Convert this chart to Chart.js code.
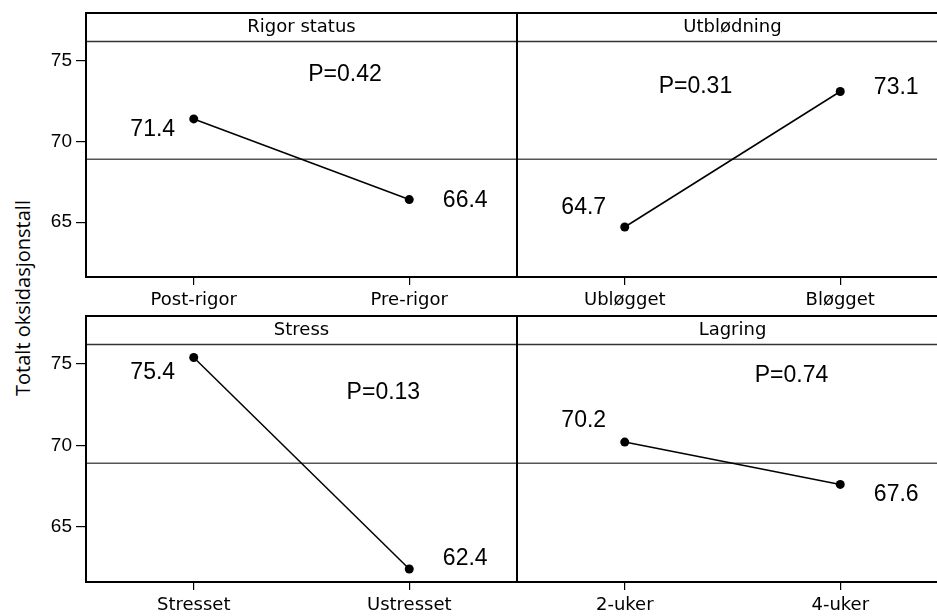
<!DOCTYPE html>
<html>
<head>
<meta charset="utf-8">
<script src="https://cdn.jsdelivr.net/npm/chart.js@4.4.1/dist/chart.umd.min.js"></script>
<style>
  html, body { margin: 0; padding: 0; background: #fff; overflow: hidden; }
  #wrap { position: relative; width: 937px; height: 616px; overflow: hidden; background: #fff; }
  #wrap canvas { position: absolute; }
  #ytitle {
    position: absolute; left: 22px; top: 298px;
    transform: translate(-50%, -50%) rotate(-90deg);
    font: 20px "Open Sans", sans-serif; color: #000; white-space: nowrap;
  }
</style>
</head>
<body>
<div id="wrap">
  <div id="ytitle">Totalt oksidasjonstall</div>
</div>
<script>
// data
const factors = ['Rigor status', 'Utblødning', 'Stress', 'Lagring'];
const levels = [
  ['Post-rigor', 'Pre-rigor'],
  ['Ubløgget', 'Bløgget'],
  ['Stresset', 'Ustresset'],
  ['2-uker', '4-uker'],
];
const means = [
  [71.4, 66.4],
  [64.7, 73.1],
  [75.4, 62.4],
  [70.2, 67.6],
];
const pValues = ['0.42', '0.31', '0.13', '0.74'];
const grandMean = 68.9;
const yTicks = [65, 70, 75];
const yMin = 61.6;
const yMax = 76.2;

// layout of the 2x2 grid (page pixels)
const rowTop = [13, 315.7];
const rowBottom = [277, 581.7];
const axisH = 39;
// where the value labels and P text sit, per panel
const labelDy = [[8.7, -0.5], [-21.4, -5.4], [13.3, -11.7], [-23.3, 8.7]];
const pPos = [[0.601, 74.29], [0.414, 73.51], [0.690, 73.34], [0.637, 74.40]];

const NUM_FONT = '"Liberation Sans", Arial, sans-serif';
const TXT_FONT = '"DejaVu Sans", sans-serif';

const framePlugin = {
  id: 'frame',
  beforeDatasetsDraw(chart) {
    const { ctx, chartArea: a, scales } = chart;
    const y = scales.y.getPixelForValue(grandMean);
    ctx.save();
    ctx.strokeStyle = '#555';
    ctx.lineWidth = 1.5;
    ctx.beginPath();
    ctx.moveTo(a.left, y);
    ctx.lineTo(a.right, y);
    ctx.stroke();
    ctx.restore();
  },
  afterDraw(chart) {
    const { ctx, chartArea: a } = chart;
    const top = chart.titleBlock.top;
    ctx.save();
    ctx.strokeStyle = '#333';
    ctx.lineWidth = 1.5;
    ctx.beginPath();
    ctx.moveTo(a.left, a.top);
    ctx.lineTo(a.right, a.top);
    ctx.stroke();
    ctx.strokeStyle = '#000';
    ctx.lineWidth = 2;
    ctx.strokeRect(a.left, top, a.right - a.left, a.bottom - top);
    ctx.restore();
  },
};

const labelPlugin = {
  id: 'valueLabels',
  afterDatasetsDraw(chart, args, opts) {
    const { ctx, chartArea: a, scales } = chart;
    const pts = chart.getDatasetMeta(0).data;
    const vals = chart.data.datasets[0].data;
    ctx.save();
    ctx.fillStyle = '#000';
    ctx.font = '23px ' + NUM_FONT;
    ctx.textAlign = 'center';
    ctx.textBaseline = 'alphabetic';
    pts.forEach((p, i) => {
      const dx = i === 0 ? -41 : 56;
      ctx.fillText(vals[i].toFixed(1), p.x + dx, p.y + opts.dy[i] + 8.2);
    });
    const px = a.left + opts.p[0] * (a.right - a.left);
    const py = scales.y.getPixelForValue(opts.p[1]);
    ctx.fillText('P=' + opts.pText, px, py + 8.2);
    ctx.restore();
  },
};

const wrap = document.getElementById('wrap');

factors.forEach((name, idx) => {
  const col = idx % 2;
  const row = Math.floor(idx / 2);
  const canvas = document.createElement('canvas');
  const left = col === 0 ? 0 : 514;
  const width = col === 0 ? 520 : 437;
  const top = rowTop[row] - 13;
  const height = rowBottom[row] + axisH - top;
  canvas.width = width;
  canvas.height = height;
  canvas.style.left = left + 'px';
  canvas.style.top = top + 'px';
  wrap.appendChild(canvas);

  new Chart(canvas.getContext('2d'), {
    type: 'line',
    data: {
      labels: levels[idx],
      datasets: [
        {
          data: means[idx],
          borderColor: '#000',
          borderWidth: 1.5,
          pointRadius: 4.5,
          pointBackgroundColor: '#000',
          pointBorderWidth: 0,
          tension: 0,
          clip: false,
        },
      ],
    },
    options: {
      responsive: false,
      animation: false,
      devicePixelRatio: 1,
      layout: {
        autoPadding: false,
        padding: { top: 13, left: col === 0 ? 0 : 3, right: 3, bottom: 0 },
      },
      scales: {
        x: {
          type: 'category',
          offset: true,
          afterFit: (s) => { s.height = axisH; },
          grid: { drawOnChartArea: false, tickLength: 8, color: '#000', lineWidth: 1.2 },
          border: { display: false },
          ticks: {
            color: '#000',
            font: { family: TXT_FONT, size: 18 },
            padding: 4.5,
            maxRotation: 0,
            autoSkip: false,
          },
        },
        y: {
          display: col === 0,
          min: yMin,
          max: yMax,
          afterFit: (s) => { s.width = col === 0 ? 86 : 0; },
          afterBuildTicks: (s) => { s.ticks = yTicks.map((v) => ({ value: v })); },
          grid: { drawOnChartArea: false, tickLength: 10, color: '#000', lineWidth: 1.2 },
          border: { display: false },
          ticks: {
            color: '#000',
            font: { family: NUM_FONT, size: 19 },
            padding: 4,
          },
        },
      },
      plugins: {
        legend: { display: false },
        tooltip: { enabled: false },
        title: {
          display: true,
          text: name,
          fullSize: false,
          color: '#000',
          font: { family: TXT_FONT, size: 18, weight: 'normal' },
          padding: { top: 3.5, bottom: 3.4 },
        },
        valueLabels: { dy: labelDy[idx], p: pPos[idx], pText: pValues[idx] },
      },
    },
    plugins: [framePlugin, labelPlugin],
  });
});
</script>
</body>
</html>
